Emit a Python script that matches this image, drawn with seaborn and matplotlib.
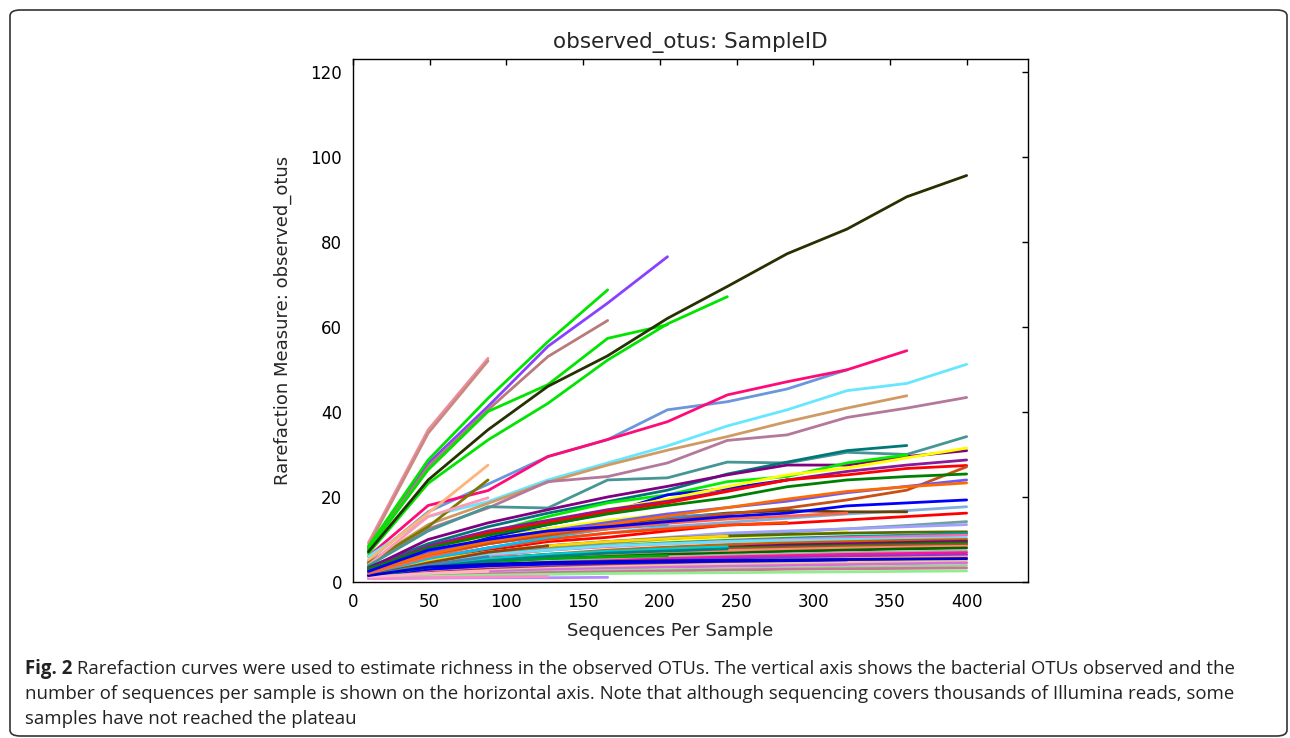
import pandas as pd
import matplotlib.pyplot as plt
import seaborn as sns
from matplotlib.patches import FancyBboxPatch

# rarefaction depths (sequences per sample)
depths = [10, 49, 88, 127, 166, 205, 244, 283, 322, 361, 400]

# steep curves at the top of the plot
high_curves = [
    [9.2, 35.8, 52.6],
    [8.5, 35.0, 52.0],
    [8.0, 27.9, 41.3, 55.4, 65.6, 76.5],
    [7.8, 27.1, 40.5, 53.0, 61.5],
    [7.5, 26.4, 40.1, 46.4, 57.3, 60.5],
    [8.3, 28.7, 43.2, 56.5, 68.7],
    [6.7, 23.2, 33.4, 42.0, 52.2, 60.7, 67.1],
    [7.1, 24.0, 35.8, 46.0, 53.2, 62.0, 69.5, 77.2, 83.0, 90.6, 95.6],
]
high_colors = ["#f08ca0", "#c88a80", "#8a40ff", "#b87a7a", "#00e400",
               "#00e400", "#00e400", "#263000"]

# curves in the 20-55 range
mid_curves = [
    [5.0, 16.5, 23.0, 29.5, 33.5, 40.5, 42.4, 45.4, 49.9],
    [6.0, 18.0, 21.5, 29.5, 33.5, 37.7, 44.0, 47.1, 49.9, 54.4],
    [6.0, 15.4, 18.9, 24.0, 28.0, 32.0, 36.7, 40.5, 45.0, 46.7, 51.2],
    [4.5, 13.5, 18.5, 23.5, 27.5, 31.0, 34.2, 37.7, 40.9, 43.8],
    [4.2, 12.5, 17.4, 23.6, 24.8, 28.0, 33.3, 34.6, 38.7, 40.9, 43.4],
    [5.2, 16.2, 27.5],
    [4.5, 13.0, 24.0],
    [4.0, 15.4, 19.8],
    [3.8, 12.0, 17.7, 17.4, 24.0, 24.5, 28.2, 28.0, 30.5, 30.0, 34.2],
    [3.5, 9.0, 13.0, 16.2, 18.9, 21.6, 25.4, 28.2, 30.9, 32.1],
    [3.2, 10.0, 13.9, 17.0, 20.0, 22.5, 25.2, 27.5, 27.5, 29.5, 30.9],
    [3.0, 8.0, 11.5, 15.4, 18.6, 20.5, 23.6, 24.8, 28.0, 29.9],
    [2.5, 7.0, 10.5, 13.5, 16.2, 20.5, 22.0, 24.0],
    [2.5, 7.0, 11.0, 14.0, 17.0, 19.5, 22.4, 25.2, 26.8, 29.2, 31.5],
    [3.0, 8.5, 12.0, 14.5, 17.0, 19.0, 21.5, 24.0, 26.0, 27.5, 28.7],
    [2.8, 8.0, 11.5, 14.0, 16.5, 18.6, 21.3, 24.0, 25.2, 26.7, 27.4],
    [2.5, 6.5, 9.0, 11.0, 13.0, 14.5, 16.0, 17.4, 19.3, 21.6, 27.1],
    [3.0, 8.0, 11.0, 13.5, 16.0, 18.0, 19.8, 22.4, 24.0, 24.8, 25.4],
    [2.5, 7.0, 10.0, 12.0, 14.0, 16.0, 17.5, 19.0, 21.0, 22.5, 24.0],
    [2.5, 6.5, 9.5, 11.5, 13.5, 15.5, 17.5, 19.5, 21.3, 22.4, 23.3],
    [2.5, 7.5, 10.0, 12.0, 13.0, 14.2, 15.4, 16.2, 17.9, 18.6, 19.3],
]
mid_colors = ["#6a96dc", "#ff0a78", "#66e6ff", "#d09a64", "#b4789a",
              "#ffb478", "#7a7a00", "#ff9ab4", "#469696", "#007878",
              "#800080", "#00ee00", "#0000ff", "#ffff00", "#8b1a9b",
              "#ff0000", "#c85014", "#008000", "#6a5aff", "#ff6a00",
              "#0000ff"]

# dense bundle near the bottom
low_curves = [
    [2.0, 5.0, 7.5, 9.5, 10.5, 12.0, 13.4, 13.8, 14.6, 15.4, 16.2],
    [2.0, 5.5, 8.0, 10.0, 11.5, 13.0, 14.0, 15.0, 16.0, 16.8, 17.7],
    [1.8, 4.5, 6.5, 8.0, 9.0, 10.0, 11.0, 11.8, 12.5, 13.3, 14.2],
    [2.0, 5.0, 7.0, 8.5, 9.5, 10.5, 11.5, 12.0, 12.5, 13.0, 13.5],
    [2.5, 6.5, 9.5, 12.0, 13.5, 15.0, 16.2, 16.8, 16.5, 16.5],
    [1.5, 4.0, 6.0, 7.5, 8.5, 9.5, 10.5, 11.0, 11.8],
    [2.0, 5.0, 7.0, 8.5, 9.5, 10.3, 10.8, 11.2, 11.5, 11.7, 11.8],
    [1.8, 4.5, 6.5, 7.5, 8.5, 9.2, 9.8, 10.3, 10.7, 11.0, 11.4],
    [1.5, 4.0, 6.0, 7.5, 8.3, 9.0, 9.6, 10.0, 10.4, 10.7, 11.0],
    [1.5, 4.5, 6.5, 7.5, 8.5, 9.0, 9.5, 9.8, 10.0, 10.2, 10.4],
    [1.5, 4.0, 5.5, 6.5, 7.5, 8.2, 8.8, 9.2, 9.5, 9.8, 10.0],
    [1.5, 3.5, 5.0, 6.0, 7.0, 7.6, 8.2, 8.7, 9.0, 9.3, 9.6],
    [1.8, 4.0, 5.5, 6.5, 7.0, 7.5, 8.0, 8.3, 8.6, 8.9, 9.2],
    [1.5, 3.5, 5.0, 6.0, 6.8, 7.3, 7.8, 8.1, 8.4, 8.6, 8.8],
    [1.5, 3.5, 4.8, 5.8, 6.5, 7.0, 7.4, 7.7, 8.0, 8.2, 8.4],
    [1.5, 3.5, 4.8, 5.5, 6.0, 6.5, 6.8, 7.2, 7.5, 7.8, 8.0],
    [1.2, 3.0, 4.0, 4.8, 5.4, 5.9, 6.3, 6.6, 6.9, 7.1, 7.3],
    [1.2, 2.8, 3.8, 4.5, 5.0, 5.5, 5.9, 6.2, 6.5, 6.7, 6.9],
    [1.2, 2.6, 3.5, 4.2, 4.7, 5.1, 5.5, 5.8, 6.0, 6.2, 6.4],
    [1.0, 2.4, 3.2, 3.8, 4.3, 4.7, 5.0, 5.3, 5.5, 5.7, 5.9],
    [1.0, 2.2, 3.0, 3.5, 4.0, 4.3, 4.6, 4.9, 5.1, 5.3, 5.5],
    [1.0, 2.0, 2.7, 3.2, 3.6, 3.9, 4.2, 4.4, 4.6, 4.8, 5.0],
    [1.0, 1.8, 2.4, 2.9, 3.2, 3.5, 3.7, 3.9, 4.1, 4.3, 4.5],
    [1.0, 1.6, 2.0, 2.4, 2.7, 2.9, 3.1, 3.3, 3.5, 3.7, 3.9],
    [1.0, 1.5, 1.9, 2.2, 2.4, 2.6, 2.8, 3.0, 3.1, 3.2, 3.3],
    [1.0, 1.3, 1.6, 1.8, 2.0, 2.1, 2.2, 2.3, 2.4, 2.5, 2.6],
    [1.5, 3.0, 3.8, 4.2, 4.5, 4.7, 4.9, 5.0, 5.2],
    [1.5, 3.5, 4.8, 5.5, 5.9, 6.2],
    [0.8, 0.9, 1.0, 1.0, 1.1],
    [0.8, 1.0, 1.2, 1.3],
    [1.5, 4.0, 5.5, 6.5, 7.2, 7.8, 8.3],
    [2.0, 5.5, 8.0, 10.0, 11.5, 12.5, 13.4, 14.0],
    [1.8, 5.0, 7.0, 8.5, 9.5, 10.2, 10.8],
    [1.8, 5.5, 8.0, 10.5, 12.5, 13.5],
    [2.0, 6.0, 9.0, 11.0, 12.5],
    [1.5, 4.5, 7.0, 8.5],
    [1.5, 4.0, 6.0],
    [2.2, 6.5, 9.5, 12.0, 14.0, 15.5],
    [1.2, 3.5, 5.0, 6.0, 6.8, 7.3, 7.8],
    [1.2, 2.0, 2.5],
    [1.5, 3.5, 4.2, 4.6, 4.8, 5.0, 5.1, 5.2, 5.3, 5.4, 5.5],
    [2.5, 7.0, 10.5, 12.5, 14.0, 15.2, 16.0],
    [2.2, 6.5, 10.0, 12.5, 14.5, 16.0],
    [2.0, 6.0, 9.0, 11.0, 12.5, 13.8, 14.8, 15.5, 16.2],
]
low_colors = ["#ff0000", "#7fb0e0", "#70a0a0", "#a0a0ff", "#6a4000",
              "#ffff33", "#556b00", "#00a0a0", "#ff69b4", "#6ae0ff",
              "#c86400", "#800080", "#008000", "#a0522d", "#ff8c69",
              "#006400", "#b0b0b0", "#ff1493", "#9932cc", "#ffa07a",
              "#b03060", "#e6c8a0", "#da70d6", "#a0d0a0", "#c87890",
              "#90ee90", "#0000ff", "#00aa00", "#b58cff", "#ff8cc8",
              "#00ced1", "#ff4500", "#ffd700", "#00bfff", "#ff7f00",
              "#8b4513", "#4682b4", "#ff0000", "#008080", "#ffb6c1",
              "#0000cd", "#1e90ff", "#ffff00", "#ff6347"]

caption_bold = "Fig. 2"
caption_lines = [
    " Rarefaction curves were used to estimate richness in the observed OTUs. The vertical axis shows the bacterial OTUs observed and the",
    "number of sequences per sample is shown on the horizontal axis. Note that although sequencing covers thousands of Illumina reads, some",
    "samples have not reached the plateau",
]

# long-form table, drawing order: low bundle, mid, then high curves on top
rows = []
palette = {}
all_curves = low_curves + mid_curves + high_curves
all_colors = low_colors + mid_colors + high_colors
for i, (vals, col) in enumerate(zip(all_curves, all_colors)):
    name = f"s{i:03d}"
    palette[name] = col
    for d, v in zip(depths, vals):
        rows.append({"sample": name, "depth": d, "value": v})
df = pd.DataFrame(rows)

sns.set_style("white")
plt.rcParams["font.family"] = ["DejaVu Sans"]

W, H = 1290, 738
fig = plt.figure(figsize=(W / 100, H / 100), dpi=100)
ax = fig.add_axes([353 / W, 1 - 582 / H, (1028 - 353) / W, (582 - 59) / H])

sns.lineplot(data=df, x="depth", y="value", hue="sample", palette=palette,
             legend=False, linewidth=2, estimator=None, sort=False, ax=ax)

ax.set_xlim(0, 440)
ax.set_ylim(0, 123)
ax.set_xticks(range(0, 401, 50))
ax.set_yticks(range(0, 121, 20))
ax.tick_params(direction="in", length=4, width=1, top=True, right=True,
               labelsize=12, pad=8, colors="black")
for s in ax.spines.values():
    s.set_color("black")
    s.set_linewidth(1)

ax.set_title("observed_otus: SampleID", fontsize=15.5, pad=8)
ax.set_xlabel("Sequences Per Sample", fontsize=13)
ax.set_ylabel("Rarefaction Measure: observed_otus", fontsize=13)
ax.xaxis.set_label_coords((670 - 353) / 675, -40 / 523)
ax.yaxis.set_label_coords(-(353 - 292) / 675, 0.5)

# caption under the chart
cap_font = ["Open Sans", "DejaVu Sans"]
x0 = 25 / W
baselines = [674, 699, 724]
fig.canvas.draw()
r = fig.canvas.get_renderer()
probe = fig.text(0, 0, caption_bold + caption_lines[0], fontsize=12, family=cap_font)
wpx = probe.get_window_extent(r).width
probe.remove()
fs = 12 * (1228 - 25) / wpx

tb = fig.text(x0, 1 - baselines[0] / H, caption_bold, fontsize=fs, family=cap_font,
              fontweight="bold", va="baseline", color="#222222")
bw = tb.get_window_extent(r).width
fig.text(x0 + bw / W, 1 - baselines[0] / H, caption_lines[0], fontsize=fs,
         family=cap_font, va="baseline", color="#222222")
for line, b in zip(caption_lines[1:], baselines[1:]):
    fig.text(x0, 1 - b / H, line, fontsize=fs, family=cap_font, va="baseline",
             color="#222222")

box = FancyBboxPatch((10 / W, 2 / H), (1287 - 10) / W, (728 - 2) / H,
                     boxstyle="round,pad=0,rounding_size=0.008",
                     transform=fig.transFigure, fill=False,
                     edgecolor="#333333", linewidth=1.2)
fig.patches.append(box)

fig.savefig("out.png", dpi=100)
